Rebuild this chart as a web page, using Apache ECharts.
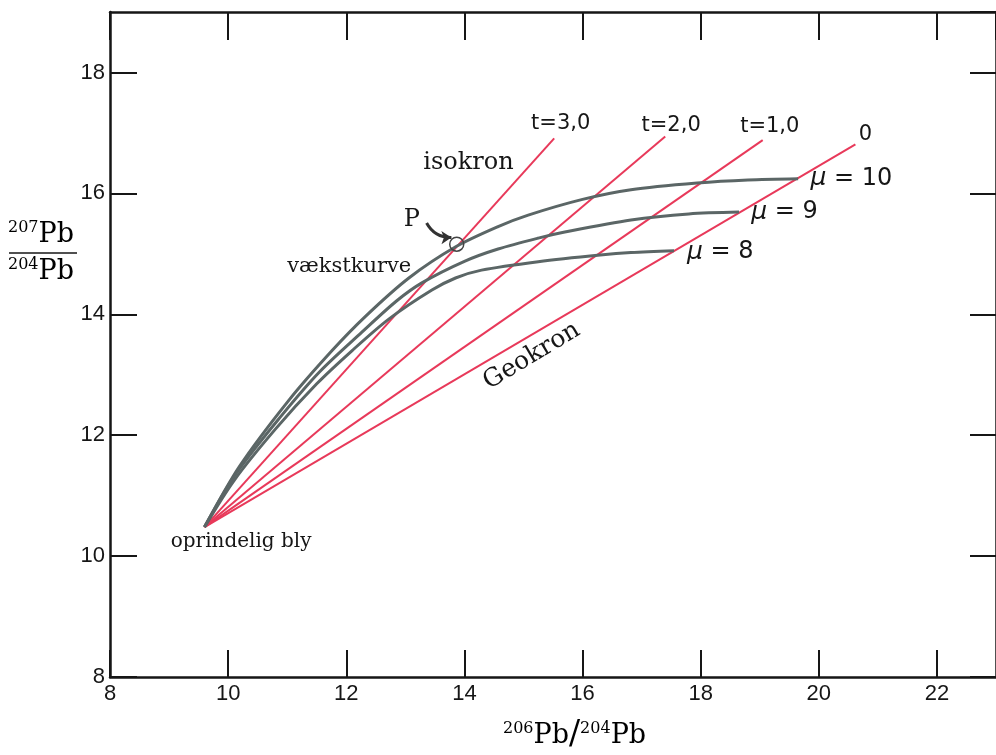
<!DOCTYPE html>
<html>
<head>
<meta charset="utf-8">
<script src="https://cdn.jsdelivr.net/npm/echarts@6/dist/echarts.min.js"></script>
<style>
  html, body { margin: 0; padding: 0; background: #fff; }
  #chart { width: 996px; height: 755px; }
</style>
</head>
<body>
<div id="chart"></div>
<script>
// oprindelig bly (start punkt)
const originLead = [9.60, 10.48];

// isokroner: endepunkter og navne
const isochronNames = ['t=3,0', 't=2,0', 't=1,0', '0'];
const isochronEnds = [[15.52, 16.91], [17.40, 16.94], [19.05, 16.88], [20.62, 16.81]];
const isochronLabelAt = [[15.63, 17.15], [17.50, 17.13], [19.17, 17.11], [20.79, 16.97]];

// vækstkurver
const mu10 = [[9.60, 10.48], [10.19, 11.48], [11.03, 12.58], [11.76, 13.40], [12.33, 13.97],
  [13.06, 14.60], [13.86, 15.12], [14.57, 15.45], [15.08, 15.64], [16.00, 15.90],
  [16.82, 16.06], [17.94, 16.17], [18.80, 16.22], [19.65, 16.24]];
const mu9 = [[9.60, 10.48], [10.13, 11.36], [10.90, 12.32], [11.55, 13.05], [12.26, 13.70],
  [12.85, 14.22], [13.28, 14.52], [14.01, 14.88], [14.57, 15.08], [15.25, 15.26], [15.70, 15.36],
  [16.82, 15.56], [17.80, 15.66], [18.65, 15.69]];
const mu8 = [[9.60, 10.48], [10.10, 11.25], [10.80, 12.10], [11.50, 12.85], [12.10, 13.40],
  [12.72, 13.92], [13.45, 14.40], [13.85, 14.60], [14.29, 14.73], [15.25, 14.87],
  [16.30, 14.98], [16.82, 15.02], [17.55, 15.05]];
const muLabels = ['10', '9', '8'];
const muLabelAt = [[20.55, 16.24], [19.42, 15.69], [18.33, 15.03]];

// punkt P og pil
const pointP = [13.87, 15.16];
const arrowFrom = [13.36, 15.51];
const arrowTo = [13.78, 15.27];

// tekster i figuren
const serifNotes = ['isokron', 'vækstkurve', 'oprindelig bly', 'P'];
const serifNoteAt = [[14.07, 16.50], [12.05, 14.79], [10.22, 10.24], [13.11, 15.56]];
const serifNoteSize = [24, 21, 20, 24];
const geochronName = 'Geokron';
const geochronNameAt = [15.14, 13.31];

const xTicks = { min: 8, max: 23, step: 2 };
const yTicks = { min: 8, max: 19, step: 2 };

const RED = '#e8395a';
const GREY = '#5b6666';
const INK = '#161616';
const SERIF = '"DejaVu Serif", serif';
const SANS = '"Liberation Sans", Arial, sans-serif';
const WIDE = '"DejaVu Sans", sans-serif';

const chart = echarts.init(document.getElementById('chart'), null, { renderer: 'canvas' });

const tickStyle = (len) => ({ show: true, inside: true, length: len, lineStyle: { color: INK, width: 2 } });

const series = [];

isochronEnds.forEach((end, i) => {
  series.push({
    name: isochronNames[i],
    type: 'line',
    data: [originLead, end],
    symbol: 'none',
    lineStyle: { color: RED, width: 2 },
    z: 3
  });
});

[mu10, mu9, mu8].forEach((curve, i) => {
  series.push({
    name: 'mu' + muLabels[i],
    type: 'line',
    data: curve,
    smooth: 0.3,
    symbol: 'none',
    lineStyle: { color: GREY, width: 3 },
    z: 4
  });
});

const textSeries = (points, texts, label, sizes) => ({
  type: 'scatter',
  symbolSize: 1,
  itemStyle: { color: 'transparent', opacity: 1 },
  silent: true,
  z: 6,
  data: points.map((p, i) => {
    const item = { value: p, name: texts[i] };
    if (sizes) item.label = { fontSize: sizes[i] };
    return item;
  }),
  label: Object.assign({ show: true, position: 'inside', color: INK, formatter: (d) => d.name }, label)
});

series.push(textSeries(isochronLabelAt, isochronNames, { fontFamily: WIDE, fontSize: 21 }));
series.push(textSeries(muLabelAt, muLabels, {
  fontFamily: WIDE, fontSize: 24,
  formatter: (d) => '{m|μ} = ' + d.name,
  rich: { m: { fontFamily: WIDE, fontStyle: 'italic', fontSize: 25, color: INK } }
}));
series.push(textSeries(serifNoteAt, serifNotes, { fontFamily: SERIF, fontSize: 21 }, serifNoteSize));
series.push(textSeries([geochronNameAt], [geochronName], { fontFamily: SERIF, fontSize: 25, rotate: 31 }));

// åben cirkel ved P
series.push({
  type: 'scatter',
  data: [pointP],
  symbol: 'circle',
  symbolSize: 14,
  itemStyle: { color: 'rgba(0,0,0,0)', borderColor: '#444', borderWidth: 1.5, opacity: 1 },
  z: 7
});

// pil fra P
series.push({
  type: 'lines',
  coordinateSystem: 'cartesian2d',
  data: [{ coords: [arrowFrom, arrowTo] }],
  symbol: ['none', 'arrow'],
  symbolSize: 10,
  lineStyle: { color: '#333', width: 3, curveness: -0.3, opacity: 1 },
  z: 7
});

const supRich = {
  s: { fontFamily: SERIF, fontSize: 16, color: INK, padding: [0, 0, 14, 0] },
  p: { fontFamily: SERIF, fontSize: 27, color: INK },
  k: { fontFamily: SERIF, fontSize: 33, color: INK }
};

chart.setOption({
  animation: false,
  backgroundColor: '#fff',
  grid: { left: 110, top: 12, width: 890, height: 665 },
  xAxis: [
    {
      type: 'value', position: 'bottom',
      min: xTicks.min, max: xTicks.max, interval: xTicks.step,
      axisLine: { show: true, lineStyle: { color: INK, width: 2.5 } },
      axisTick: tickStyle(27),
      splitLine: { show: false },
      axisLabel: { color: INK, fontFamily: SANS, fontSize: 22, margin: 6, showMaxLabel: false }
    },
    {
      type: 'value', position: 'top',
      min: xTicks.min, max: xTicks.max, interval: xTicks.step,
      axisLine: { show: true, lineStyle: { color: INK, width: 2.5 } },
      axisTick: tickStyle(28),
      splitLine: { show: false },
      axisLabel: { show: false }
    }
  ],
  yAxis: [
    {
      type: 'value', position: 'left',
      min: yTicks.min, max: yTicks.max, interval: yTicks.step,
      axisLine: { show: true, lineStyle: { color: INK, width: 2.5 } },
      axisTick: tickStyle(27),
      splitLine: { show: false },
      axisLabel: { color: INK, fontFamily: SANS, fontSize: 22, margin: 5, showMaxLabel: false }
    },
    {
      type: 'value', position: 'right',
      min: yTicks.min, max: yTicks.max, interval: yTicks.step,
      axisLine: { show: true, lineStyle: { color: INK, width: 2.5 } },
      axisTick: tickStyle(26),
      splitLine: { show: false },
      axisLabel: { show: false }
    }
  ],
  graphic: [
    {
      type: 'text', left: 503, top: 719,
      style: { text: '{s|206}{p|Pb}{k|/}{s|204}{p|Pb}', rich: supRich }
    },
    {
      type: 'text', left: 8, top: 220,
      style: { text: '{s|207}{p|Pb}', rich: supRich }
    },
    {
      type: 'line', shape: { x1: 9, y1: 253, x2: 77, y2: 253 },
      style: { stroke: INK, lineWidth: 1.5 }
    },
    {
      type: 'text', left: 8, top: 257,
      style: { text: '{s|204}{p|Pb}', rich: supRich }
    }
  ],
  series: series
});
</script>
</body>
</html>
